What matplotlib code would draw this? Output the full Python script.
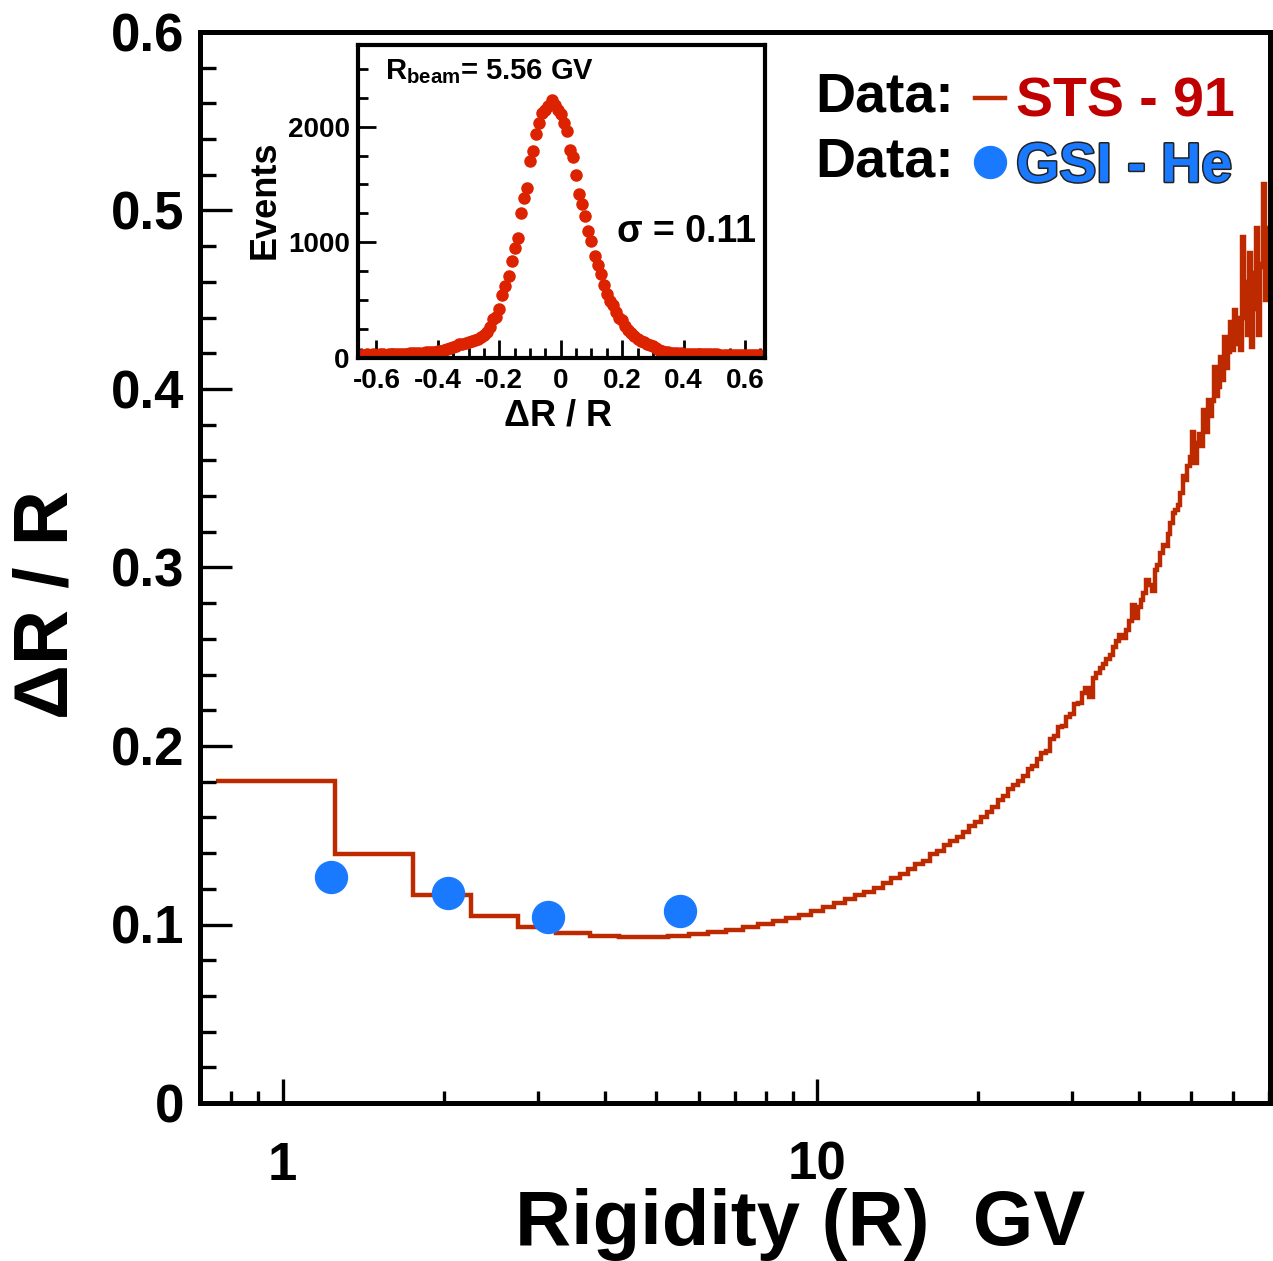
import numpy as np
import matplotlib
matplotlib.use("Agg")
import matplotlib.pyplot as plt
import matplotlib.patheffects as pe
from matplotlib.ticker import FixedLocator, MultipleLocator, LogLocator, NullFormatter, FuncFormatter

plt.rcParams['font.family'] = ['Liberation Sans', 'DejaVu Sans']
plt.rcParams['font.weight'] = 'bold'
plt.rcParams['mathtext.fontset'] = 'custom'
plt.rcParams['mathtext.rm'] = 'Liberation Sans:bold'
plt.rcParams['mathtext.bf'] = 'Liberation Sans:bold'

# STS-91 rigidity resolution, 0.5 GV bins starting at 0.75 GV
sts_edges = np.arange(0.75, 70.26, 0.5)
sts_res = [
    0.1806, 0.1395, 0.1163, 0.1050, 0.0988, 0.0955, 0.0938, 0.0932, 0.0932, 0.0938,
    0.0949, 0.0958, 0.0969, 0.0986, 0.1003, 0.1020, 0.1038, 0.1055, 0.1077, 0.1096,
    0.1122, 0.1141, 0.1165, 0.1184, 0.1206, 0.1234, 0.1259, 0.1285, 0.1313, 0.1337,
    0.1354, 0.1395, 0.1412, 0.1447, 0.1470, 0.1490, 0.1520, 0.1550, 0.1574, 0.1600,
    0.1630, 0.1660, 0.1696, 0.1720, 0.1757, 0.1780, 0.1806, 0.1830, 0.1870, 0.1890,
    0.1926, 0.1960, 0.1970, 0.2037, 0.2058, 0.2105, 0.2112, 0.2160, 0.2180, 0.2234,
    0.2240, 0.2297, 0.2323, 0.2277, 0.2380, 0.2410, 0.2435, 0.2460, 0.2490, 0.2510,
    0.2556, 0.2590, 0.2620, 0.2605, 0.2650, 0.2700, 0.2790, 0.2715, 0.2780, 0.2818,
    0.2856, 0.2930, 0.2900, 0.2870, 0.2986, 0.3014, 0.3080, 0.3126, 0.3120, 0.3190,
    0.3248, 0.3304, 0.3320, 0.3350, 0.3416, 0.3510, 0.3490, 0.3566, 0.3620, 0.3760,
    0.3585, 0.3700, 0.3750, 0.3680, 0.3880, 0.3760, 0.3940, 0.3850, 0.3930, 0.4125,
    0.3960, 0.4010, 0.4180, 0.4050, 0.4290, 0.4120, 0.4210, 0.4377, 0.4220, 0.4440,
    0.4250, 0.4400, 0.4218, 0.4853, 0.4400, 0.4600, 0.4300, 0.4760, 0.4237, 0.4650,
    0.4450, 0.4900, 0.4300, 0.4700, 0.4685, 0.5150, 0.4500, 0.4900, 0.4800,
]

# GSI helium beam test points
gsi_r = [1.23, 2.04, 3.14, 5.54]
gsi_res = [0.1266, 0.1176, 0.1040, 0.1076]

# inset: dR/R distribution at R_beam = 5.56 GV
inset_x = np.round(np.arange(-0.65, 0.6501, 0.01), 2)
inset_events = [
    30, 28, 31, 29, 32, 30, 31, 33, 30, 32,
    33, 35, 34, 36, 37, 38, 40, 41, 42, 44,
    46, 48, 50, 53, 56, 59, 63, 70, 78, 90,
    98, 106, 117, 124, 131, 138, 145, 152, 165, 178,
    196, 225, 266, 334, 352, 420, 545, 625, 710, 835,
    950, 1040, 1250, 1380, 1470, 1700, 1790, 1940, 2030, 2120,
    2140, 2180, 2229, 2190, 2140, 2110, 2030, 1960, 1800, 1737,
    1580, 1420, 1333, 1225, 1100, 1010, 880, 800, 730, 630,
    555, 490, 455, 400, 345, 325, 280, 245, 219, 190,
    165, 150, 136, 125, 113, 104, 88, 72, 60, 53,
    49, 46, 44, 42, 40, 38, 37, 36, 35, 34,
    33, 33, 32, 31, 32, 30, 31, 29, 30, 28,
    29, 28, 27, 28, 26, 27, 26, 25, 26, 25,
    24,
]

red_line = '#be2a00'
blue = '#1a7aff'
inset_red = '#dd2200'

fig = plt.figure(figsize=(12.73, 12.61), dpi=100)
W, H = 1273, 1261
ax = fig.add_axes([200 / W, 1 - 1103 / H, 1070 / W, 1071 / H])

ax.stairs(sts_res, sts_edges, baseline=None, color=red_line, lw=3.2, label='STS - 91')
ax.plot(gsi_r, gsi_res, 'o', ms=23, color=blue, ls='none', label='GSI - He', zorder=3)

ax.set_xscale('log')
ax.set_xlim(0.7, 70.3)
ax.set_ylim(0, 0.6)
ax.xaxis.set_major_locator(FixedLocator([1, 10]))
ax.xaxis.set_major_formatter(FuncFormatter(lambda v, p: f'{v:g}'))
ax.xaxis.set_minor_locator(LogLocator(base=10, subs=np.arange(2, 10)))
ax.xaxis.set_minor_formatter(NullFormatter())
ax.yaxis.set_major_locator(MultipleLocator(0.1))
ax.yaxis.set_minor_locator(MultipleLocator(0.02))
ax.yaxis.set_major_formatter(FuncFormatter(lambda v, p: '0' if abs(v) < 1e-9 else f'{v:.1f}'))

ax.tick_params(axis='both', which='both', direction='in', top=False, right=False, width=2.4)
ax.tick_params(axis='y', which='major', length=23, labelsize=38, pad=11)
ax.tick_params(axis='y', which='minor', length=11.5)
ax.tick_params(axis='x', which='major', length=17, labelsize=38, pad=27)
ax.tick_params(axis='x', which='minor', length=8.5)
for s in ax.spines.values():
    s.set_linewidth(3.6)

ax.set_xlabel('Rigidity (R)  GV', fontsize=56, fontweight='bold')
ax.xaxis.label.set_va('center')
ax.xaxis.set_label_coords(0.5607, -0.1135)
ax.set_ylabel('ΔR / R', fontsize=55, fontweight='bold')
ax.yaxis.label.set_va('center')
ax.yaxis.set_label_coords(-0.142, 0.465)

# legend
leg = ax.legend(loc='upper left', bbox_to_anchor=(0.7243, 0.958), frameon=False,
                fontsize=40, handlelength=0.54, handletextpad=0.2, borderpad=0,
                borderaxespad=0, labelspacing=0.23, markerscale=1.0)
for t, c in zip(leg.get_texts(), ['#c00000', blue]):
    t.set_color(c)
    t.set_fontweight('bold')
leg.get_texts()[1].set_path_effects([pe.withStroke(linewidth=2.2, foreground='#222222')])
ax.text(0.5748, 0.9393, 'Data:', transform=ax.transAxes, fontsize=40, fontweight='bold',
        ha='left', va='center')
ax.text(0.5748, 0.8786, 'Data:', transform=ax.transAxes, fontsize=40, fontweight='bold',
        ha='left', va='center')

# inset
axi = fig.add_axes([358 / W, 1 - 358 / H, 407 / W, 313 / H])
axi.plot(inset_x, inset_events, 'o', ms=8, color=inset_red, ls='none')
axi.set_xlim(-0.66, 0.665)
axi.set_ylim(0, 2706)
axi.xaxis.set_major_locator(MultipleLocator(0.2))
axi.xaxis.set_minor_locator(MultipleLocator(0.05))
axi.yaxis.set_major_locator(MultipleLocator(1000))
axi.yaxis.set_minor_locator(MultipleLocator(250))
axi.xaxis.set_major_formatter(FuncFormatter(lambda v, p: '0' if abs(v) < 1e-9 else f'{v:.1f}'))
axi.yaxis.set_major_formatter(FuncFormatter(lambda v, p: f'{v:.0f}'))
axi.tick_params(axis='both', which='both', direction='in', top=False, right=False, width=2.0)
axi.tick_params(axis='both', which='major', length=13, labelsize=20)
axi.tick_params(axis='both', which='minor', length=7)
axi.tick_params(axis='y', which='major', pad=6)
axi.tick_params(axis='x', which='major', pad=7)
for s in axi.spines.values():
    s.set_linewidth(3.0)

axi.set_xlabel('ΔR / R', fontsize=26, fontweight='bold')
axi.xaxis.label.set_va('center')
axi.xaxis.set_label_coords(0.491, -0.185)
axi.set_ylabel('Events', fontsize=26, fontweight='bold')
axi.yaxis.label.set_va('center')
axi.yaxis.set_label_coords(-0.2285, 0.505)
axi.text(0.066, 0.914, r'R$_{\rm beam}$= 5.56 GV', transform=axi.transAxes, fontsize=21,
         fontweight='bold', ha='left', va='center')
axi.text(0.636, 0.4026, 'σ = 0.11', transform=axi.transAxes, fontsize=27,
         fontweight='bold', ha='left', va='center')

fig.savefig('out.png', dpi=100)
